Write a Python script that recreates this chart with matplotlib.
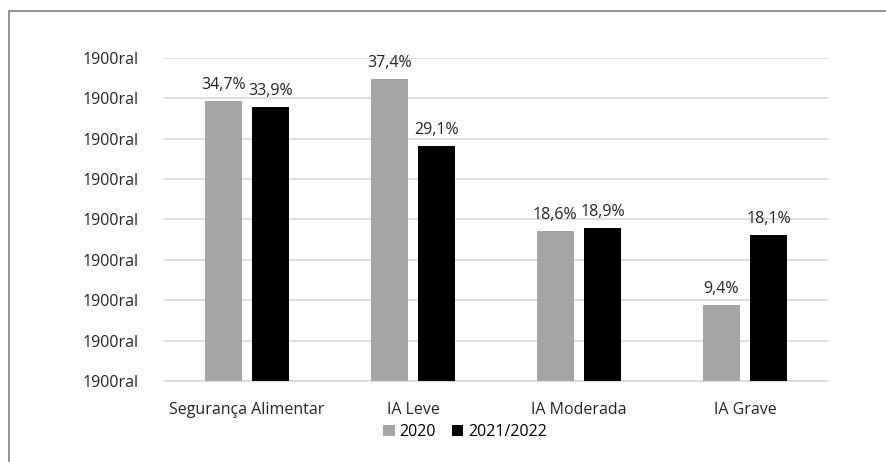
import matplotlib.pyplot as plt
import numpy as np
from matplotlib.patches import Rectangle

categories = ['Segurança Alimentar', 'IA Leve', 'IA Moderada', 'IA Grave']
v2020 = [34.7, 37.4, 18.6, 9.4]
v2122 = [33.9, 29.1, 18.9, 18.1]
labels_2020 = ['34,7%', '37,4%', '18,6%', '9,4%']
labels_2122 = ['33,9%', '29,1%', '18,9%', '18,1%']
yticks = [0, 5, 10, 15, 20, 25, 30, 35, 40]
ytick_labels = ['1900ral'] * len(yticks)

plt.rcParams['font.family'] = ['Open Sans', 'DejaVu Sans']
fs = 11.5

fig = plt.figure(figsize=(8.86, 4.62), dpi=100)
ax = fig.add_axes([164 / 886, 1 - 381 / 462, 664 / 886, 323 / 462])

# outer frame, only top and left edges visible
fig.patches.append(Rectangle((9 / 886, -0.1), 1.2, 1 - 11 / 462 + 0.1,
                             transform=fig.transFigure, fill=False,
                             edgecolor='#7f7f7f', linewidth=1.2))

x = np.arange(len(categories))
w = 0.225
off = 0.143
b1 = ax.bar(x - off, v2020, w, color='#a5a5a5', label='2020', zorder=3)
b2 = ax.bar(x + off, v2122, w, color='#000000', label='2021/2022', zorder=3)

for rect, lab in zip(b1, labels_2020):
    ax.text(rect.get_x() + rect.get_width() / 2, rect.get_height() + 1.0, lab,
            ha='center', va='bottom', fontsize=fs, color='#262626')
for rect, lab in zip(b2, labels_2122):
    ax.text(rect.get_x() + rect.get_width() / 2, rect.get_height() + 1.0, lab,
            ha='center', va='bottom', fontsize=fs, color='#262626')

ax.set_xlim(-0.5, len(categories) - 0.5)
ax.set_ylim(0, 40)
ax.set_yticks(yticks)
ax.set_yticklabels(ytick_labels, fontsize=fs, color='#262626')
ax.set_xticks(x)
ax.set_xticklabels(categories, fontsize=fs, color='#262626')
ax.tick_params(axis='both', length=0)
ax.tick_params(axis='y', pad=18)
ax.tick_params(axis='x', pad=15)
ax.grid(axis='y', color='#d9d9d9', linewidth=1.2, zorder=0)
for s in ['top', 'right', 'left']:
    ax.spines[s].set_visible(False)
ax.spines['bottom'].set_color('#d9d9d9')
ax.spines['bottom'].set_linewidth(1.2)

fig.legend(loc='center', bbox_to_anchor=(465 / 886, 1 - 432 / 462), ncol=2,
           frameon=False, fontsize=fs, handlelength=0.7, handleheight=0.7,
           handletextpad=0.3, columnspacing=1.0)

fig.savefig('out.png', dpi=100)
